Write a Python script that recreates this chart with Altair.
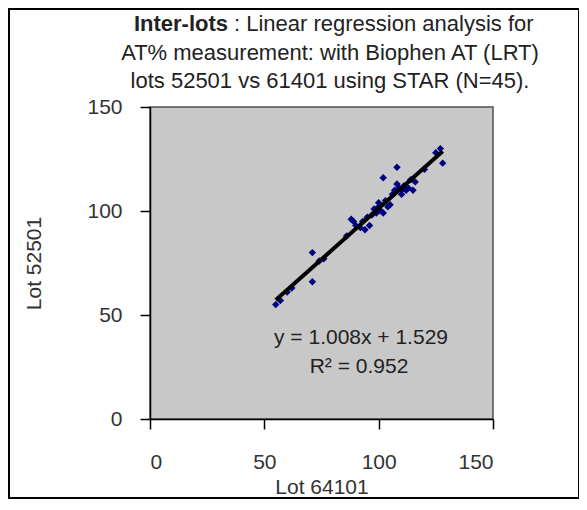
import altair as alt
import pandas as pd

lot_64101 = [55, 57, 60, 62, 71, 71, 74, 76, 86, 88, 89, 90, 92, 93, 94, 95, 96, 97,
             98, 99, 100, 100, 101, 102, 102, 103, 104, 105, 106, 107, 108, 108, 109, 110,
             110, 111, 112, 113, 114, 115, 116, 120, 125, 127, 128]
lot_52501 = [55, 57, 61, 63, 80, 66, 76, 77, 88, 96, 95, 93, 92, 95, 91, 97, 93, 98,
             101, 99, 104, 102, 100, 116, 99, 105, 102, 103, 108, 110, 121, 113, 111, 110,
             108, 112, 110, 111, 115, 110, 114, 120, 128, 130, 123]
ticks = [0, 50, 100, 150]

title_bold = "Inter-lots"
title_rest = ": Linear regression analysis for"
title_line2 = "AT% measurement: with Biophen AT (LRT)"
title_line3 = "lots 52501 vs 61401 using STAR (N=45)."
eq_text = "y = 1.008x + 1.529"
r2_text = "R² = 0.952"
x_title = "Lot 64101"
y_title = "Lot 52501"

FONT = "Liberation Sans"
W, H = 343, 312

df = pd.DataFrame({"x": lot_64101, "y": lot_52501})

xenc = alt.X("x:Q", scale=alt.Scale(domain=[0, 150], nice=False),
             axis=alt.Axis(values=ticks, title=x_title, grid=False, tickSize=10,
                           labelPadding=22, titlePadding=4, labelFontSize=21,
                           titleFontSize=21, titleFontWeight="normal"))
yenc = alt.Y("y:Q", scale=alt.Scale(domain=[0, 150], nice=False),
             axis=alt.Axis(values=ticks, title=y_title, grid=False, tickSize=10,
                           labelPadding=18, titlePadding=42, labelFontSize=21,
                           titleFontSize=21, titleFontWeight="normal"))

points = alt.Chart(df).mark_point(shape="diamond", filled=True, color="#000080",
                                  size=55, opacity=1).encode(x=xenc, y=yenc)

line = alt.Chart(df).transform_regression("x", "y").mark_line(
    color="black", strokeWidth=4).encode(x="x:Q", y="y:Q")


def txt(s, x, y, align="center", weight="normal", size=22):
    return alt.Chart(pd.DataFrame({"t": [s]})).mark_text(
        align=align, baseline="middle", font=FONT, fontSize=size,
        fontWeight=weight, color="#222222").encode(
        text="t:N", x=alt.value(x), y=alt.value(y))


t1a = txt(title_bold, 78, -83, align="right", weight="bold")
t1b = txt(title_rest, 84, -83, align="left")
t2 = txt(title_line2, 180, -54)
t3 = txt(title_line3, 180, -26)
eq = txt(eq_text, 211, 231, size=21)
r2 = txt(r2_text, 209, 260, size=21)

border = alt.Chart(pd.DataFrame({"t": [0]})).mark_rect(
    fill=None, stroke="black", strokeWidth=2).encode(
    x=alt.value(-141), x2=alt.value(W + 86), y=alt.value(-98), y2=alt.value(H + 79))

chart = alt.layer(points, line, eq, r2, t1a, t1b, t2, t3, border).properties(
    width=W, height=H,
    autosize=alt.AutoSizeParams(type="none"),
    padding={"left": 142, "top": 99, "right": 86, "bottom": 80},
    background="white",
).configure_view(
    fill="#c8c8c8", stroke="#505050", strokeWidth=1.5
).configure_axis(
    domainColor="black", domainWidth=1.5, tickColor="black", tickWidth=1.5,
    labelColor="#333333", titleColor="#333333", labelFont=FONT, titleFont=FONT
)

chart.save("out.html", embed_options={"renderer": "svg", "actions": False})
